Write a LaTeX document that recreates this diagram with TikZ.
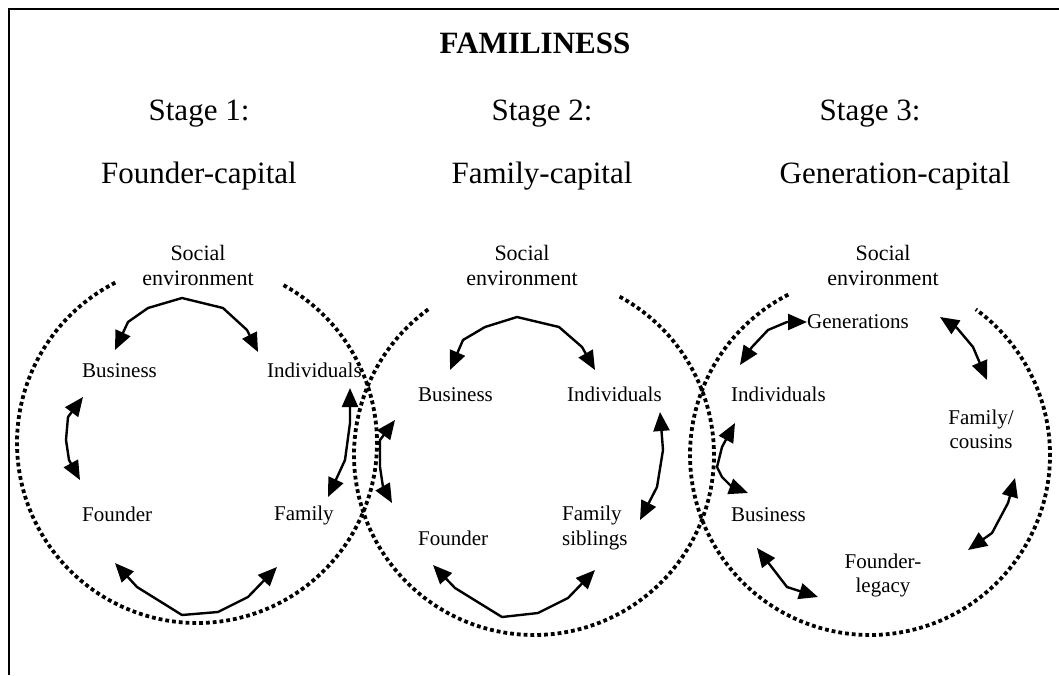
\documentclass[tikz,border=0pt]{standalone}
\usepackage{fontspec}
\setmainfont{Liberation Serif}
\usetikzlibrary{arrows.meta}
\begin{document}
\begin{tikzpicture}[x=1pt,y=-1pt,
  lbl/.style={font=\fontsize{21}{25}\selectfont, inner sep=0pt, anchor=base west, align=left},
  lblc/.style={font=\fontsize{21}{24}\selectfont, inner sep=0pt, anchor=base, align=center},
  soc/.style={font=\fontsize{22}{25}\selectfont, inner sep=0pt, anchor=base, align=center},
  stg/.style={font=\fontsize{31}{37}\selectfont, inner sep=0pt, anchor=base},
  ttl/.style={font=\fontsize{31}{37}\selectfont\bfseries, inner sep=0pt, anchor=base},
  dotc/.style={line width=3.8pt, dash pattern=on 3.8pt off 3pt},
  arr/.style={line width=2.4pt, line join=round,
    {Triangle[length=19pt,width=16pt]}-{Triangle[length=19pt,width=16pt]}}]
\useasboundingbox (0,0) rectangle (1059,675);
% frame
\draw[line width=2pt] (1059,9) -- (8.5,9) -- (8.5,675);
% titles
\node[ttl] (title) at (535,53) {FAMILINESS};
\node[stg] (st1) at (199,120) {Stage 1:};
\node[stg] (cap1) at (199,183) {Founder-capital};
\node[stg] (st2) at (542,120) {Stage 2:};
\node[stg] (cap2) at (542,183) {Family-capital};
\node[stg] (st3) at (870,120) {Stage 3:};
\node[stg] (cap3) at (895,183) {Generation-capital};
% dotted circles
\draw[dotc] plot[domain=117:422, samples=240] ({197+180*cos(\x)}, {443-180*sin(\x)});
\draw[dotc] plot[domain=126:422, samples=240] ({534+180*cos(\x)}, {455-180*sin(\x)});
\draw[dotc] plot[domain=117:414, samples=240] ({870+180*cos(\x)}, {455-180*sin(\x)});
% social environment
\node[soc] (soc1) at (198,285) {Social\\environment};
\node[soc] (soc2) at (522,285) {Social\\environment};
\node[soc] (soc3) at (883,285) {Social\\environment};
% stage 1 labels
\node[lbl] (bus1) at (82,377) {Business};
\node[lbl] (ind1) at (267,377) {Individuals};
\node[lbl] (fou1) at (82,521) {Founder};
\node[lbl] (fam1) at (274,520) {Family};
% stage 2 labels
\node[lbl] (bus2) at (418,401) {Business};
\node[lbl] (ind2) at (567,401) {Individuals};
\node[lbl] (fou2) at (418,545) {Founder};
\node[lbl] (fam2) at (562,545) {Family\\siblings};
% stage 3 labels
\node[lbl] (gen3) at (807,328) {Generations};
\node[lbl] (ind3) at (731,401) {Individuals};
\node[lbl] (bus3) at (731,521) {Business};
\node[lblc] (fam3) at (981,448) {Family/\\cousins};
\node[lblc] (fou3) at (883,592) {Founder-\\legacy};
% stage 1 arrows
\draw[arr] (115,350) -- (128,322) -- (148,308) -- (182,298) -- (223,308) -- (247,330) -- (258,352);
\draw[arr] (83,397) -- (68,417) -- (66,440) -- (69,460) -- (80,480);
\draw[arr] (350,388) -- (350,423) -- (345,460) -- (328,497);
\draw[arr] (115,563) -- (137,587) -- (182,615) -- (218,612) -- (248,597) -- (277,567);
% stage 2 arrows
\draw[arr] (450,370) -- (463,340) -- (485,327) -- (517,317) -- (559,327) -- (582,347) -- (595,370);
\draw[arr] (395,420) -- (380,440) -- (380,467) -- (383,487) -- (392,503);
\draw[arr] (660,412) -- (663,450) -- (657,487) -- (640,520);
\draw[arr] (433,565) -- (455,588) -- (502,617) -- (538,613) -- (568,598) -- (595,570);
% stage 3 arrows
\draw[arr] (740,365) -- (752,347) -- (768,330) -- (787,322) -- (807,322);
\draw[arr] (940,317) -- (957,328) -- (973,347) -- (987,380);
\draw[arr] (1015,478) -- (1008,503) -- (992,533) -- (968,550);
\draw[arr] (757,548) -- (787,587) -- (818,597);
\draw[arr] (735,423) -- (722,447) -- (717,467) -- (722,477) -- (732,487) -- (748,493);
\end{tikzpicture}
\end{document}
